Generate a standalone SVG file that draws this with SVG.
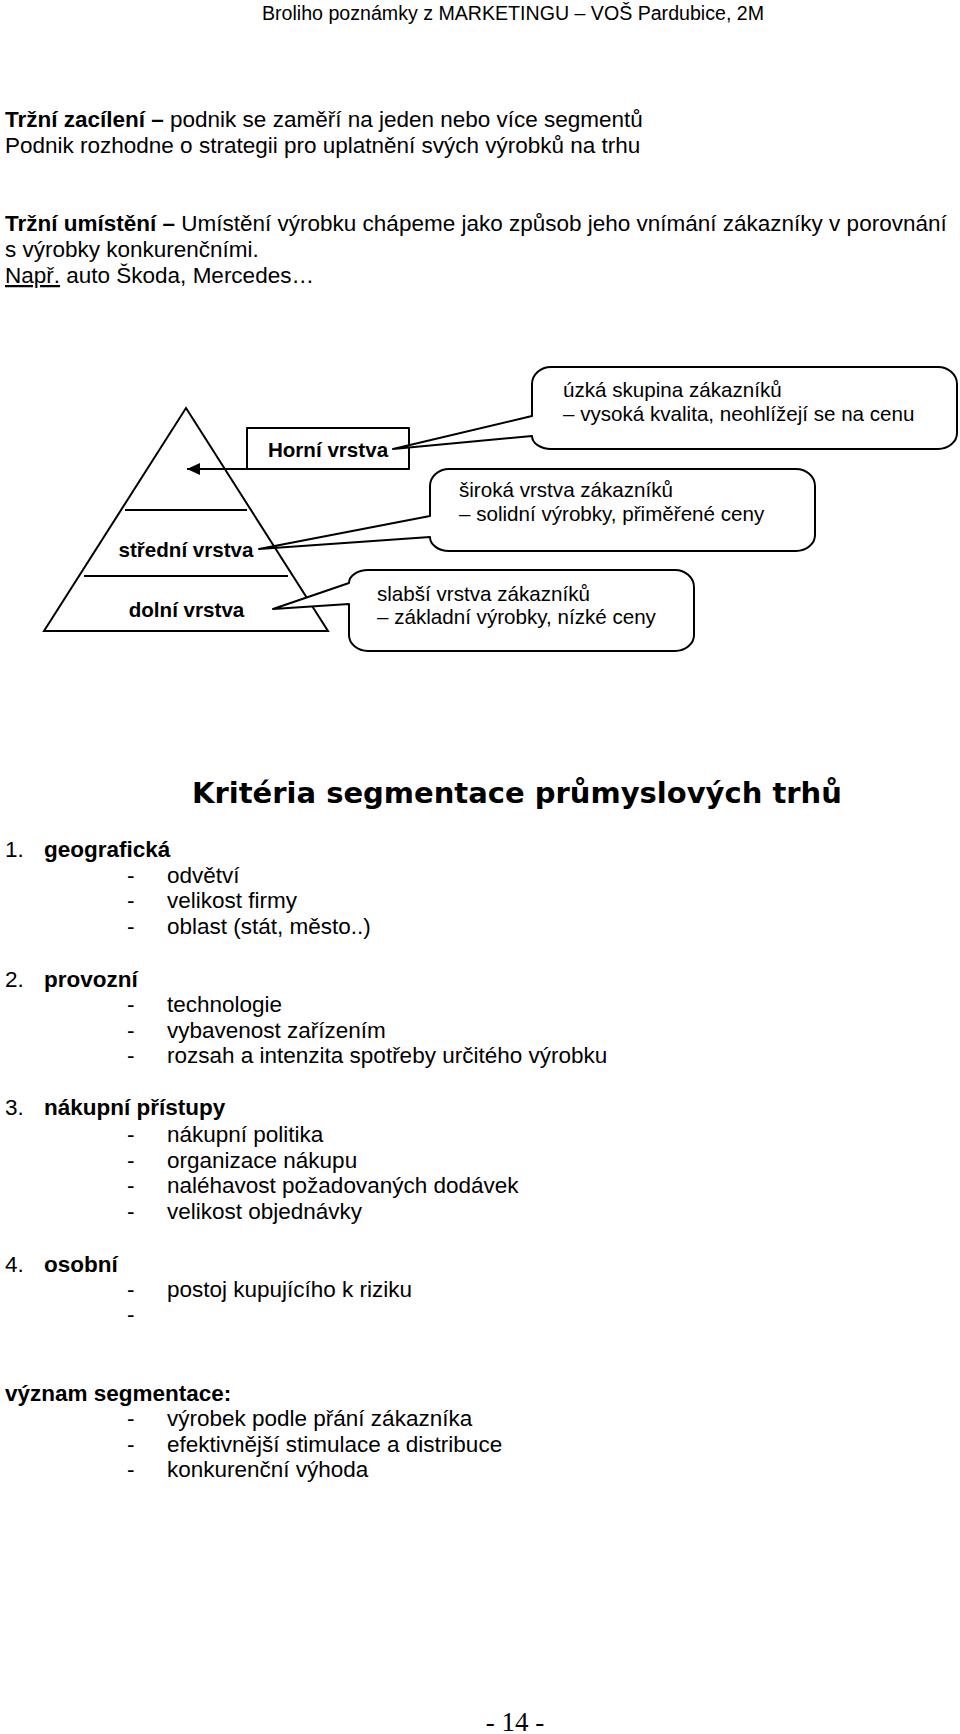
<svg xmlns="http://www.w3.org/2000/svg" width="960" height="1734" viewBox="0 0 960 1734">
<style>
text{font-family:"Liberation Sans",Arial,sans-serif;fill:#000}
.b{font-weight:bold}
.body{font-size:22.5px}
.lbl{font-size:20.6px;font-weight:bold}
.bub{font-size:20.6px}
.hd{font-family:"DejaVu Sans",Verdana,sans-serif;font-size:29px;font-weight:bold}
.ln{fill:none;stroke:#000;stroke-width:2}
.shape{fill:#fff;stroke:#000;stroke-width:2;stroke-linejoin:round}
</style>
<defs>
<marker id="ah" viewBox="0 0 13 12" refX="13" refY="6" markerWidth="13" markerHeight="12" markerUnits="userSpaceOnUse" orient="auto">
<path d="M0,0 L13,6 L0,12 Z" fill="#000"/>
</marker>
</defs>
<rect width="960" height="1734" fill="#fff"/>

<text x="262" y="20" style="font-size:19.6px">Broliho poznámky z MARKETINGU – VOŠ Pardubice, 2M</text>

<g id="intro" class="body">
<text x="5" y="127" class="body"><tspan class="b">Tržní zacílení –</tspan> podnik se zaměří na jeden nebo více segmentů</text>
<text x="5" y="153" class="body">Podnik rozhodne o strategii pro uplatnění svých výrobků na trhu</text>
<text x="5" y="231" class="body"><tspan class="b">Tržní umístění –</tspan> Umístění výrobku chápeme jako způsob jeho vnímání zákazníky v porovnání</text>
<text x="5" y="257" class="body">s výrobky konkurenčními.</text>
<text x="5" y="283" class="body"><tspan text-decoration="underline">Např.</tspan> auto Škoda, Mercedes…</text>
</g>

<g id="pyramid">
<path class="ln" d="M186,408 L328,631 L44,631 Z"/>
<line class="ln" x1="125" y1="510" x2="247" y2="510"/>
<line class="ln" x1="84" y1="576" x2="288" y2="576"/>
<text class="lbl" x="186" y="557" text-anchor="middle">střední vrstva</text>
<text class="lbl" x="186.5" y="617" text-anchor="middle">dolní vrstva</text>
</g>

<g id="connectors">
<line class="ln" x1="247" y1="469" x2="187" y2="469" marker-end="url(#ah)"/>
</g>

<g id="horni">
<rect class="shape" x="247" y="428" width="162" height="41"/>
<text class="lbl" x="328" y="457" text-anchor="middle">Horní vrstva</text>
</g>

<g id="bubble1">
<path class="shape" d="M551,367 H938 A19,17 0 0 1 957,384 V433 A19,16 0 0 1 938,449 H551 A19,13 0 0 1 532,436 L393,449 L532,416 V384 A19,17 0 0 1 551,367 Z"/>
<text class="bub" x="563" y="397">úzká skupina zákazníků</text>
<text class="bub" x="563" y="421">– vysoká kvalita, neohlížejí se na cenu</text>
</g>

<g id="bubble2">
<path class="shape" d="M449,469 H796 A19,17 0 0 1 815,486 V535 A19,16 0 0 1 796,551 H449 A19,14 0 0 1 430,537 L259,549 L430,516 V486 A19,17 0 0 1 449,469 Z"/>
<text class="bub" x="459" y="497">široká vrstva zákazníků</text>
<text class="bub" x="459" y="521">– solidní výrobky, přiměřené ceny</text>
</g>

<g id="bubble3">
<path class="shape" d="M368,570 H675 A19,17 0 0 1 694,587 V635 A19,16 0 0 1 675,651 H368 A19,16 0 0 1 349,635 V604 L273,609 L349,583 A19,13 0 0 1 368,570 Z"/>
<text class="bub" x="377" y="601">slabší vrstva zákazníků</text>
<text class="bub" x="377" y="624">– základní výrobky, nízké ceny</text>
</g>

<text class="hd" x="192" y="803">Kritéria segmentace průmyslových trhů</text>

<g id="list" class="body">
<text class="body" x="5" y="857">1.</text><text class="body b" x="44" y="857">geografická</text>
<text class="body" x="127" y="883">-</text><text class="body" x="167" y="883">odvětví</text>
<text class="body" x="127" y="908">-</text><text class="body" x="167" y="908">velikost firmy</text>
<text class="body" x="127" y="934">-</text><text class="body" x="167" y="934">oblast (stát, město..)</text>

<text class="body" x="5" y="987">2.</text><text class="body b" x="44" y="987">provozní</text>
<text class="body" x="127" y="1012">-</text><text class="body" x="167" y="1012">technologie</text>
<text class="body" x="127" y="1038">-</text><text class="body" x="167" y="1038">vybavenost zařízením</text>
<text class="body" x="127" y="1063">-</text><text class="body" x="167" y="1063">rozsah a intenzita spotřeby určitého výrobku</text>

<text class="body" x="5" y="1115">3.</text><text class="body b" x="44" y="1115">nákupní přístupy</text>
<text class="body" x="127" y="1142">-</text><text class="body" x="167" y="1142">nákupní politika</text>
<text class="body" x="127" y="1168">-</text><text class="body" x="167" y="1168">organizace nákupu</text>
<text class="body" x="127" y="1193">-</text><text class="body" x="167" y="1193">naléhavost požadovaných dodávek</text>
<text class="body" x="127" y="1219">-</text><text class="body" x="167" y="1219">velikost objednávky</text>

<text class="body" x="5" y="1272">4.</text><text class="body b" x="44" y="1272">osobní</text>
<text class="body" x="127" y="1297">-</text><text class="body" x="167" y="1297">postoj kupujícího k riziku</text>
<text class="body" x="127" y="1322">-</text>

<text class="body b" x="5" y="1401">význam segmentace:</text>
<text class="body" x="127" y="1426">-</text><text class="body" x="167" y="1426">výrobek podle přání zákazníka</text>
<text class="body" x="127" y="1452">-</text><text class="body" x="167" y="1452">efektivnější stimulace a distribuce</text>
<text class="body" x="127" y="1477">-</text><text class="body" x="167" y="1477">konkurenční výhoda</text>
</g>

<text x="515" y="1731" text-anchor="middle" style="font-family:'Liberation Serif','Times New Roman',serif;font-size:27px">- 14 -</text>
</svg>
